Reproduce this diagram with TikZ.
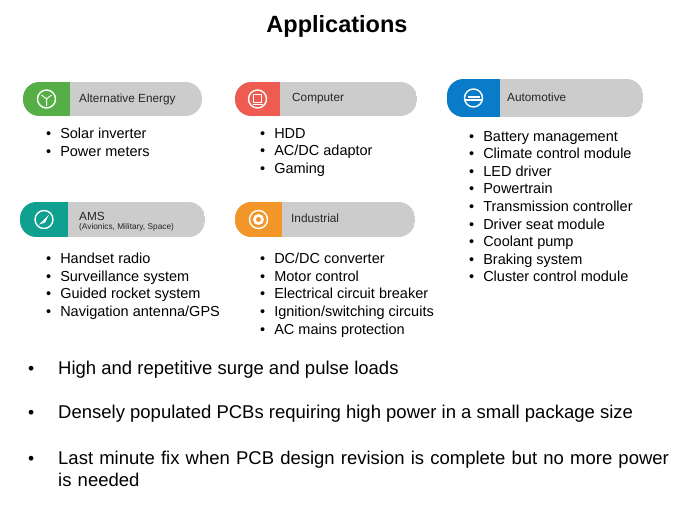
\documentclass[tikz,border=0pt]{standalone}
\usepackage{fontspec}
\setmainfont{Liberation Sans}
\begin{document}
\begin{tikzpicture}[x=1pt,y=-1pt,
 txt/.style={anchor=north west,inner sep=0pt,font=\fontsize{14.5}{17.6}\selectfont,align=left},
 big/.style={anchor=north west,inner sep=0pt,font=\fontsize{18.5}{22}\selectfont,align=left},
 lab/.style={anchor=west,inner sep=0pt,font=\fontsize{11.8}{14}\selectfont,text=black!85}]
\useasboundingbox (0,0) rectangle (675,506);
\node[font=\bfseries\fontsize{23.5}{26}\selectfont] (title) at (337,26) {Applications};
\newcommand\pill[7]{% name,x1,y1,x2,y2,xc,color
 \begin{scope}
 \clip[rounded corners=16.5pt] (#2,#3) rectangle (#4,#5);
 \fill[black!20] (#2,#3) rectangle (#4,#5);
 \fill[#7] (#2,#3) rectangle (#6,#5);
 \end{scope}
 \draw[white,line width=1.4pt] ({(#2+#6)/2},{(#3+#5)/2}) circle (9);
 \coordinate (#1) at ({(#2+#6)/2},{(#3+#5)/2});}
\definecolor{cg}{HTML}{55AE46}\definecolor{cr}{HTML}{EE5B50}\definecolor{cb}{HTML}{0A7BC8}
\definecolor{ct}{HTML}{10A090}\definecolor{co}{HTML}{F3962A}
\pill{ae}{23}{82}{202}{116}{70}{cg}
\pill{co}{235}{82}{417}{116}{280}{cr}
\pill{au}{447}{79}{643}{117}{500}{cb}
\pill{am}{20}{202}{205}{237}{68}{ct}
\pill{in}{235}{202}{415}{237}{282}{co}
% icons
\draw[white,line width=1pt] (ae) -- ++(0,7) (ae) -- ++(-5,-4) (ae) -- ++(5,-4);
\draw[white,line width=1pt] ([shift={(-4,-5)}]co) rectangle ([shift={(4,3)}]co) ([shift={(-5,5)}]co) -- ([shift={(5,5)}]co);
\draw[white,line width=1.2pt] ([shift={(-9,2)}]au) -- ([shift={(9,2)}]au) ([shift={(-6,-1)}]au) -- ([shift={(6,-1)}]au);
\fill[white] ([shift={(-5,5)}]am) -- ([shift={(5,-5)}]am) -- ([shift={(1,3)}]am) -- cycle;
\fill[white] (in) circle (5.5); \fill[co] (in) circle (2.5);
\node[lab] at (79,99) {Alternative Energy};
\node[lab] at (292,99) {Computer};
\node[lab] at (507,97) {Automotive};
\node[lab,anchor=south west] at (79,221) {AMS};
\node[lab,font=\fontsize{8.3}{10}\selectfont] at (79,227) {(Avionics, Military, Space)};
\node[lab] at (291,218) {Industrial};
\newcommand\blist[3]{\node[txt] at (#1,#2) {#3};}
\blist{46}{128}{•\hspace{9pt}Solar inverter\\•\hspace{9pt}Power meters}
\blist{260}{128}{•\hspace{9pt}HDD\\•\hspace{9pt}AC/DC adaptor\\•\hspace{9pt}Gaming}
\blist{469}{131}{•\hspace{9pt}Battery management\\•\hspace{9pt}Climate control module\\•\hspace{9pt}LED driver\\•\hspace{9pt}Powertrain\\•\hspace{9pt}Transmission controller\\•\hspace{9pt}Driver seat module\\•\hspace{9pt}Coolant pump\\•\hspace{9pt}Braking system\\•\hspace{9pt}Cluster control module}
\blist{46}{253}{•\hspace{9pt}Handset radio\\•\hspace{9pt}Surveillance system\\•\hspace{9pt}Guided rocket system\\•\hspace{9pt}Navigation antenna/GPS}
\blist{260}{253}{•\hspace{9pt}DC/DC converter\\•\hspace{9pt}Motor control\\•\hspace{9pt}Electrical circuit breaker\\•\hspace{9pt}Ignition/switching circuits\\•\hspace{9pt}AC mains protection}
\node[big] (b1) at (58,361) {High and repetitive surge and pulse loads};
\node[big] (b2) at (58,405) {Densely populated PCBs requiring high power in a small package size};
\node[big,text width=615pt,align=left] (b3) at (58,451) {Last minute fix when PCB design revision is complete but no more power\\is needed};
\foreach \b in {b1,b2,b3}{\node[anchor=base west,inner sep=0pt,font=\fontsize{17.5}{21}\selectfont] at ([xshift=-30pt]\b.base west) {•};}
\end{tikzpicture}
\end{document}
